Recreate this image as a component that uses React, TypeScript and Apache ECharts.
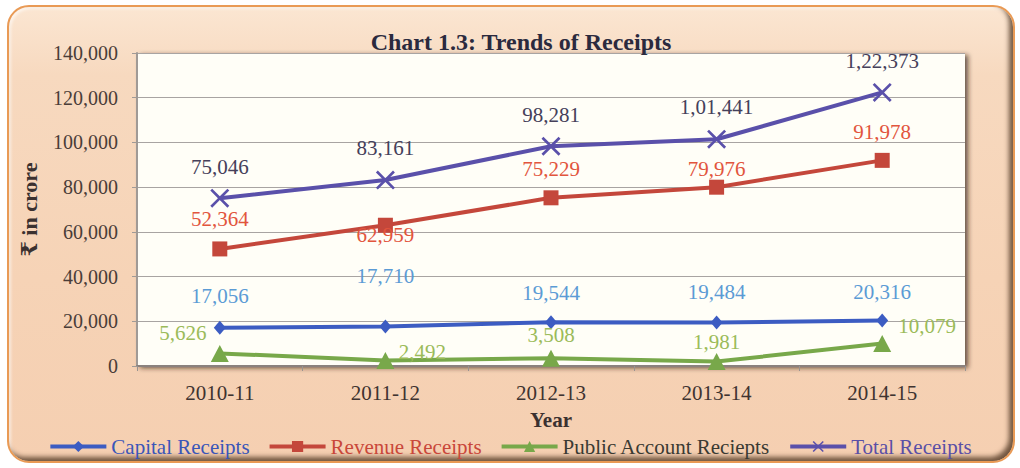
import React, { useEffect, useRef } from "react";
import * as echarts from "echarts";

const years = ["2010-11", "2011-12", "2012-13", "2013-14", "2014-15"];
const capital = [17056, 17710, 19544, 19484, 20316];
const revenue = [52364, 62959, 75229, 79976, 91978];
const publicAcc = [5626, 2492, 3508, 1981, 10079];
const total = [75046, 83161, 98281, 101441, 122373];
const seriesNames = ["Capital Receipts", "Revenue Receipts", "Public Account Reciepts", "Total Receipts"];

// label offsets (style only) relative to each marker centre
const capOff = [[0, -32], [0, -50], [0, -29], [0, -30], [0, -29]];
const revOff = [[0, -30], [0, 10], [0, -29], [0, -18], [0, -28]];
const pubOff = [[-37, -20], [37, -8], [0, -23], [0, -20], [45, -17]];
const totOff = [[0, -31], [0, -32], [0, -31], [0, -32], [0, -31]];

const FONT = '"Liberation Serif", "Times New Roman", "DejaVu Serif", serif';

function inr(n: number): string {
  const s = String(Math.round(n));
  if (s.length <= 3) return s;
  const last3 = s.slice(-3);
  let rest = s.slice(0, -3);
  const parts: string[] = [];
  while (rest.length > 2) {
    parts.unshift(rest.slice(-2));
    rest = rest.slice(0, -2);
  }
  if (rest) parts.unshift(rest);
  return parts.join(",") + "," + last3;
}

const X_SYMBOL =
  "path://M2,0 L10,8 L18,0 L20,2 L12,10 L20,18 L18,20 L10,12 L2,20 L0,18 L8,10 L0,2 Z";

function mkData(vals: number[], offs: number[][]) {
  return vals.map((v, i) => ({ value: v, label: { offset: offs[i] } }));
}

export default function App() {
  const ref = useRef<HTMLDivElement>(null);
  useEffect(() => {
    if (!ref.current) return;
    const chart = echarts.init(ref.current, null, { renderer: "svg" });
    const labelBase = (color: string) => ({
      show: true,
      position: "inside" as const,
      color,
      fontFamily: FONT,
      fontSize: 21,
      formatter: (p: any) => inr(p.value),
    });
    chart.setOption({
      animation: false,
      backgroundColor: "transparent",
      title: {
        text: "Chart 1.3: Trends of Receipts",
        left: 516,
        textAlign: "center",
        top: 25,
        textStyle: { fontFamily: FONT, fontSize: 24, fontWeight: "bold", color: "#2b2a3e" },
      },
      legend: {
        top: 431,
        left: "center",
        itemWidth: 56,
        itemHeight: 14,
        itemGap: 18,
        lineStyle: { width: 4 },
        textStyle: { fontFamily: FONT, fontSize: 21 },
        data: [
          { name: seriesNames[0], textStyle: { color: "#3a56b8" } },
          { name: seriesNames[1], textStyle: { color: "#c9473a" } },
          { name: seriesNames[2], textStyle: { color: "#3a3a33" } },
          { name: seriesNames[3], textStyle: { color: "#5a4fa6" } },
        ],
      },
      grid: {
        left: 137,
        right: 55,
        top: 53,
        bottom: 102,
        show: true,
        backgroundColor: "#fffef7",
        borderWidth: 0,
        shadowColor: "rgba(40,30,20,0.7)",
        shadowBlur: 5,
        shadowOffsetX: 3,
        shadowOffsetY: 2,
      },
      xAxis: {
        type: "category",
        data: years,
        boundaryGap: true,
        name: "Year",
        nameLocation: "middle",
        nameGap: 43,
        nameTextStyle: { fontFamily: FONT, fontSize: 21, fontWeight: "bold", color: "#3b3130" },
        axisLine: { lineStyle: { color: "#8a827e", width: 2 } },
        axisTick: { show: true, length: 5, lineStyle: { color: "#9a9490" } },
        axisLabel: { fontFamily: FONT, fontSize: 21, color: "#3f3330", margin: 16 },
      },
      yAxis: {
        type: "value",
        min: 0,
        max: 140000,
        interval: 20000,
        name: "₹ in crore",
        nameLocation: "middle",
        nameGap: 97,
        nameRotate: 90,
        nameTextStyle: { fontFamily: FONT, fontSize: 22, fontWeight: "bold", color: "#3b3130" },
        axisLine: { show: true, lineStyle: { color: "#a09a96", width: 2 } },
        axisTick: { show: true, length: 5, lineStyle: { color: "#a09a96" } },
        axisLabel: {
          fontFamily: FONT,
          fontSize: 20,
          color: "#4a3d38",
          margin: 19,
          formatter: (v: number) => v.toLocaleString("en-US"),
        },
        splitLine: { lineStyle: { color: "#a8a4a2", width: 1 } },
      },
      series: [
        {
          name: seriesNames[0],
          type: "line",
          data: mkData(capital, capOff),
          symbol: "diamond",
          symbolSize: [12, 14],
          lineStyle: { width: 4, color: "#3c5cc2" },
          itemStyle: { color: "#3c5cc2" },
          label: labelBase("#5b9bd5"),
          z: 3,
        },
        {
          name: seriesNames[1],
          type: "line",
          data: mkData(revenue, revOff),
          symbol: "rect",
          symbolSize: 15,
          lineStyle: { width: 4, color: "#c4473b" },
          itemStyle: { color: "#c4473b" },
          label: labelBase("#e2553d"),
          z: 3,
        },
        {
          name: seriesNames[2],
          type: "line",
          data: mkData(publicAcc, pubOff),
          symbol: "triangle",
          symbolSize: [18, 17],
          lineStyle: { width: 4, color: "#78a84a" },
          itemStyle: { color: "#78a84a" },
          label: labelBase("#9bbb59"),
          z: 3,
        },
        {
          name: seriesNames[3],
          type: "line",
          data: mkData(total, totOff),
          symbol: X_SYMBOL,
          symbolSize: 19,
          lineStyle: { width: 4, color: "#5a50aa" },
          itemStyle: { color: "#5a50aa" },
          label: labelBase("#45405a"),
          z: 3,
        },
      ],
    });
    return () => chart.dispose();
  }, []);

  return (
    <div style={{ position: "fixed", left: 0, top: 0, width: 1020, height: 468, background: "#ffffff" }}>
      <div
        style={{
          position: "absolute",
          left: 7,
          top: 5,
          width: 1004,
          height: 454,
          border: "2px solid #e99a55",
          borderRadius: 22,
          background: "linear-gradient(180deg, #fbe6d2 0%, #f7d9bf 15%, #f6d3b6 60%, #f5cfb1 100%)",
          boxShadow: "inset -4px -4px 5px rgba(70,45,25,0.75), inset 2px 2px 3px rgba(255,255,255,0.6)",
        }}
      />
      <div ref={ref} style={{ position: "absolute", left: 0, top: 0, width: 1020, height: 468 }} />
    </div>
  );
}
